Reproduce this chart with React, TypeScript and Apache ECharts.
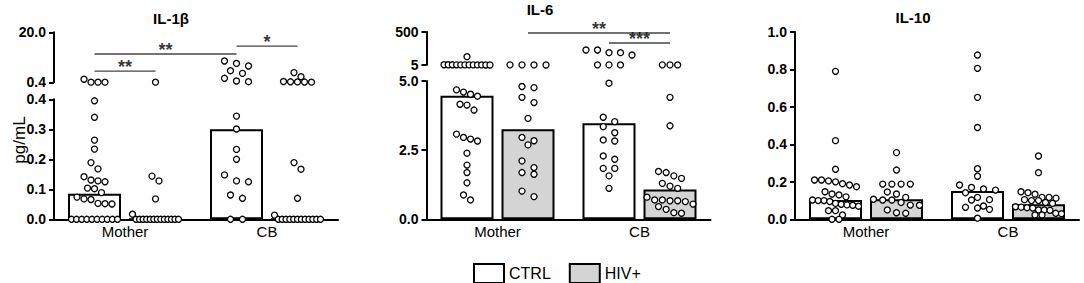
import React, { useEffect, useRef } from "react";
import * as echarts from "echarts";

// ---------- data ----------
const categories = ["Mother", "CB"];
const groupNames = ["CTRL", "HIV+"];

// IL-1β individual values (pg/mL)
const il1bMotherCtrl = [1.6, 0.45, 0.45, 0.45, 0.395, 0.34, 0.264, 0.234, 0.189, 0.168, 0.142, 0.131, 0.128, 0.125, 0.104, 0.102, 0.089, 0.074, 0.068, 0.066, 0.053, 0.052, 0.051, 0, 0, 0, 0, 0, 0, 0, 0, 0, 0];
const il1bMotherHiv = [0.45, 0.144, 0.128, 0.068, 0.017, 0, 0, 0, 0, 0, 0, 0, 0, 0, 0, 0, 0, 0];
const il1bCbCtrl = [8.75, 7.8, 6.8, 4.95, 3.9, 1.97, 0.9, 0.63, 0.344, 0.301, 0.233, 0.2, 0.148, 0.128, 0.125, 0.081, 0.07, 0, 0];
const il1bCbHiv = [4.2, 2.6, 0.7, 0.6, 0.55, 0.5, 0.45, 0.189, 0.167, 0.07, 0.014, 0, 0, 0, 0, 0, 0, 0, 0, 0, 0, 0, 0];
const il1bBarCtrl = [0.085, 0.3];
const il1bBarHiv = [0, 0];

// IL-6 individual values (pg/mL)
const il6MotherCtrl = [130, 9, 8.5, 8, 7.5, 7, 7, 6.5, 6.5, 6, 6, 5.5, 5.5, 4.68, 4.6, 4.52, 4.45, 4.16, 4.13, 3.95, 3.08, 2.96, 2.9, 2.83, 2.39, 1.96, 1.69, 1.32, 0.88, 0.7];
const il6MotherHiv = [7, 6.5, 6, 5.5, 4.8, 4.76, 4.41, 4.22, 3.65, 2.96, 2.84, 2.69, 2.11, 1.87, 1.69, 1.63, 1.02, 0.82];
const il6CbCtrl = [230, 230, 190, 190, 155, 7, 6.5, 6, 4.92, 3.69, 3.53, 3.35, 3.13, 2.87, 2.83, 2.29, 2.17, 1.84, 1.84, 1.57, 1.12];
const il6CbHiv = [7, 6.5, 6, 4.41, 3.38, 1.73, 1.69, 1.57, 1.48, 1.3, 1.2, 1.12, 0.8, 0.7, 0.7, 0.67, 0.67, 0.64, 0.55, 0.46, 0.36, 0.24, 0.22];
const il6BarCtrl = [4.47, 3.47];
const il6BarHiv = [3.26, 1.08];

// IL-10 individual values (pg/mL)
const il10MotherCtrl = [0.79, 0.42, 0.267, 0.21, 0.21, 0.205, 0.2, 0.19, 0.183, 0.174, 0.147, 0.135, 0.13, 0.12, 0.103, 0.1, 0.1, 0.095, 0.085, 0.08, 0.077, 0.075, 0.07, 0.046, 0.046, 0.023, 0, 0];
const il10MotherHiv = [0.356, 0.263, 0.188, 0.188, 0.188, 0.188, 0.146, 0.135, 0.117, 0.107, 0.103, 0.103, 0.09, 0.076, 0.075, 0.05, 0.035, 0.032];
const il10CbCtrl = [0.877, 0.806, 0.651, 0.49, 0.27, 0.23, 0.183, 0.17, 0.162, 0.156, 0.142, 0.117, 0.105, 0.103, 0.071, 0.064, 0.06, 0.053, 0.006];
const il10CbHiv = [0.338, 0.249, 0.147, 0.142, 0.134, 0.117, 0.117, 0.113, 0.105, 0.1, 0.1, 0.09, 0.085, 0.067, 0.065, 0.062, 0.06, 0.05, 0.05, 0.048, 0.032, 0.03, 0.023, 0.023];
const il10BarCtrl = [0.103, 0.151];
const il10BarHiv = [0.107, 0.08];

// tick labels
const il1bUpperTicks = [0.4, 20];
const il1bLowerTicks = [0, 0.1, 0.2, 0.3, 0.4];
const il6UpperTicks = [5, 500];
const il6LowerTicks = [0, 2.5, 5];
const il10Ticks = [0, 0.2, 0.4, 0.6, 0.8, 1.0];

// significance brackets: [category, group]
const il1bSig = [
  { from: [0, 0], to: [1, 0], level: 11.5, text: "**" },
  { from: [0, 0], to: [0, 1], level: 4.8, text: "**" },
  { from: [1, 0], to: [1, 1], level: 14.6, text: "*" },
];
const il6Sig = [
  { from: [0, 1], to: [1, 1], level: 485, text: "**" },
  { from: [1, 0], to: [1, 1], level: 335, text: "***" },
];

// ---------- layout / style ----------
const FONT = 'Arial, "Liberation Sans", Helvetica, sans-serif';
const GRID_W = 284;
const BAND = GRID_W / 2;
const BAR_W = 53;
const BAR_GAP_PX = 8;
const OFF = (BAR_W + BAR_GAP_PX) / 2 / BAND;
const D = 7;
const HW = 23;
const SP_MIN = 7;
const SP_MAX = 12;

type Seg = { min: number; max: number; top: number; height: number; ticks: number[]; fmt: (v: number) => string };
type Panel = {
  title: string; titleX: number; titleY: number; left: number;
  values: number[][][]; bars: number[][]; segs: Seg[]; sig: { from: number[]; to: number[]; level: number; text: string }[];
};

const f1 = (v: number) => v.toFixed(1);

const panels: Panel[] = [
  {
    title: "IL-1β", titleX: 171, titleY: 11, left: 54,
    values: [[il1bMotherCtrl, il1bCbCtrl], [il1bMotherHiv, il1bCbHiv]],
    bars: [il1bBarCtrl, il1bBarHiv],
    segs: [
      { min: 0.4, max: 20, top: 32.3, height: 50, ticks: il1bUpperTicks, fmt: f1 },
      { min: 0, max: 0.4, top: 99.3, height: 120, ticks: il1bLowerTicks, fmt: f1 },
    ],
    sig: il1bSig,
  },
  {
    title: "IL-6", titleX: 540, titleY: 2, left: 426.5,
    values: [[il6MotherCtrl, il6CbCtrl], [il6MotherHiv, il6CbHiv]],
    bars: [il6BarCtrl, il6BarHiv],
    segs: [
      { min: 5, max: 500, top: 32, height: 33, ticks: il6UpperTicks, fmt: (v) => String(v) },
      { min: 0, max: 5, top: 81, height: 138.3, ticks: il6LowerTicks, fmt: f1 },
    ],
    sig: il6Sig,
  },
  {
    title: "IL-10", titleX: 913, titleY: 10, left: 795,
    values: [[il10MotherCtrl, il10CbCtrl], [il10MotherHiv, il10CbHiv]],
    bars: [il10BarCtrl, il10BarHiv],
    segs: [{ min: 0, max: 1, top: 32, height: 187.3, ticks: il10Ticks, fmt: f1 }],
    sig: [],
  },
];

function segIndexOf(p: Panel, v: number) {
  if (p.segs.length === 1) return 0;
  return v > p.segs[1].max ? 0 : 1;
}
function pyOf(seg: Seg, v: number) {
  return seg.top + (seg.height * (seg.max - v)) / (seg.max - seg.min);
}
function layoutGroup(vals: number[], p: Panel) {
  const perSeg: number[][][] = p.segs.map(() => []);
  const bins: { start: number; si: number; items: { v: number; y: number }[] }[] = [];
  p.segs.forEach((seg, si) => {
    const items = vals
      .filter((v) => segIndexOf(p, v) === si)
      .map((v) => ({ v, y: pyOf(seg, v) }))
      .sort((a, b) => a.y - b.y);
    let cur: any = null;
    for (const it of items) {
      if (!cur || it.y - cur.start >= D) {
        cur = { start: it.y, si, items: [] };
        bins.push(cur);
      }
      cur.items.push(it);
    }
  });
  const maxN = Math.max(1, ...bins.map((b) => b.items.length));
  const sp = maxN > 1 ? Math.min(SP_MAX, Math.max(SP_MIN, (2 * HW) / (maxN - 1))) : SP_MAX;
  for (const b of bins) {
    const n = b.items.length;
    const s = n > 1 ? Math.min(sp, (2 * HW) / (n - 1)) : 0;
    const ordered = [...b.items].sort((a, c) => a.y - c.y);
    ordered.forEach((it, k) => perSeg[b.si].push([(k - (n - 1) / 2) * s, it.v]));
  }
  return perSeg;
}

function buildOption() {
  const grid: any[] = [];
  const xAxis: any[] = [];
  const yAxis: any[] = [];
  const series: any[] = [];

  panels.forEach((p, pi) => {
    const layouts: number[][][][][] = p.values.map((byCat) => byCat.map((vals) => layoutGroup(vals, p)));
    p.segs.forEach((seg, si) => {
      const isLower = si === p.segs.length - 1;
      const gi = grid.length;
      grid.push({ left: p.left, top: seg.top, width: GRID_W, height: seg.height });
      let catX = -1;
      if (isLower) {
        catX = xAxis.length;
        xAxis.push({
          type: "category",
          gridIndex: gi,
          position: "bottom",
          data: categories,
          axisLine: { show: true, onZero: false, lineStyle: { color: "#000", width: 2 } },
          axisTick: { show: false },
          axisLabel: { color: "#000", fontSize: 15, fontFamily: FONT, margin: 5 },
        });
      }
      const valX = xAxis.length;
      xAxis.push({ type: "value", gridIndex: gi, position: "top", min: -0.5, max: 1.5, show: false });
      const yi = yAxis.length;
      yAxis.push({
        type: "value",
        gridIndex: gi,
        position: "left",
        min: seg.min,
        max: seg.max,
        axisLine: { show: true, onZero: false, lineStyle: { color: "#000", width: 2 } },
        axisTick: { show: true, length: 5, lineStyle: { color: "#000", width: 2 }, customValues: seg.ticks },
        axisLabel: {
          customValues: seg.ticks,
          formatter: seg.fmt,
          color: "#000",
          fontSize: 14,
          fontWeight: "bold",
          fontFamily: FONT,
          margin: 8,
        },
        splitLine: { show: false },
      });
      if (isLower) {
        p.bars.forEach((vals, s) => {
          series.push({
            type: "bar",
            name: groupNames[s],
            xAxisIndex: catX,
            yAxisIndex: yi,
            data: vals,
            barWidth: BAR_W,
            barGap: `${(BAR_GAP_PX / BAR_W) * 100}%`,
            itemStyle: { color: s === 0 ? "#ffffff" : "#d4d4d4", borderColor: "#000", borderWidth: 2 },
            silent: true,
            z: 2,
          });
        });
      }
      const pts: number[][] = [];
      layouts.forEach((byCat, s) => {
        byCat.forEach((lay, c) => {
          const center = c + (s === 0 ? -OFF : OFF);
          lay[si].forEach(([off, v]) => pts.push([center + off / BAND, v]));
        });
      });
      series.push({
        type: "scatter",
        name: `dots-${pi}-${si}`,
        xAxisIndex: valX,
        yAxisIndex: yi,
        data: pts,
        symbol: "circle",
        symbolSize: 6,
        clip: false,
        silent: true,
        itemStyle: { color: "#fff", borderColor: "#000", borderWidth: 1.3, opacity: 1 },
        z: 5,
      });
      if (si === 0 && p.segs.length > 1) {
        p.sig.forEach((sg, k) => {
          const xa = sg.from[0] + (sg.from[1] === 0 ? -OFF : OFF);
          const xb = sg.to[0] + (sg.to[1] === 0 ? -OFF : OFF);
          series.push({
            type: "line",
            name: `sig-${pi}-${k}`,
            xAxisIndex: valX,
            yAxisIndex: yi,
            data: [[xa, sg.level], [xb, sg.level]],
            symbol: "none",
            clip: false,
            silent: true,
            lineStyle: { color: "#444", width: 1.3 },
            z: 6,
          });
          series.push({
            type: "scatter",
            name: `sigtxt-${pi}-${k}`,
            xAxisIndex: valX,
            yAxisIndex: yi,
            data: [[(xa + xb) / 2, sg.level]],
            symbolSize: 1,
            clip: false,
            silent: true,
            itemStyle: { color: "rgba(0,0,0,0)" },
            label: {
              show: true,
              formatter: sg.text,
              position: "inside",
              offset: [0, -4],
              color: "#000",
              fontSize: 18,
              fontWeight: "bold",
              fontFamily: FONT,
            },
            z: 6,
          });
        });
      }
    });
  });

  const graphic: any[] = panels.map((p) => ({
    type: "text",
    x: p.titleX,
    y: p.titleY,
    style: {
      text: p.title,
      font: `bold 15px ${FONT}`,
      fill: "#000",
      align: "center",
      verticalAlign: "top",
      textAlign: "center",
      textVerticalAlign: "top",
    },
  }));
  graphic.push({
    type: "text",
    x: 19,
    y: 140,
    rotation: Math.PI / 2,
    style: {
      text: "pg/mL",
      font: `17px ${FONT}`,
      fill: "#000",
      align: "center",
      verticalAlign: "middle",
      textAlign: "center",
      textVerticalAlign: "middle",
    },
  });

  return {
    animation: false,
    backgroundColor: "#fff",
    textStyle: { fontFamily: FONT },
    grid,
    xAxis,
    yAxis,
    series,
    graphic,
    legend: {
      data: [
        { name: "CTRL", itemStyle: { color: "#ffffff", borderColor: "#000", borderWidth: 2 } },
        { name: "HIV+", itemStyle: { color: "#d4d4d4", borderColor: "#000", borderWidth: 2 } },
      ],
      icon: "rect",
      left: 468,
      top: 258,
      itemWidth: 30,
      itemHeight: 19,
      itemGap: 18,
      selectedMode: false,
      textStyle: { fontSize: 16, color: "#000", fontFamily: FONT },
    },
  };
}

export default function App() {
  const ref = useRef<HTMLDivElement>(null);
  useEffect(() => {
    if (!ref.current) return;
    const chart = echarts.init(ref.current, undefined, { renderer: "svg" });
    chart.setOption(buildOption() as any);
    return () => chart.dispose();
  }, []);
  return (
    <div
      ref={ref}
      style={{ position: "absolute", left: 0, top: 0, width: 1084, height: 283, background: "#fff" }}
    />
  );
}
